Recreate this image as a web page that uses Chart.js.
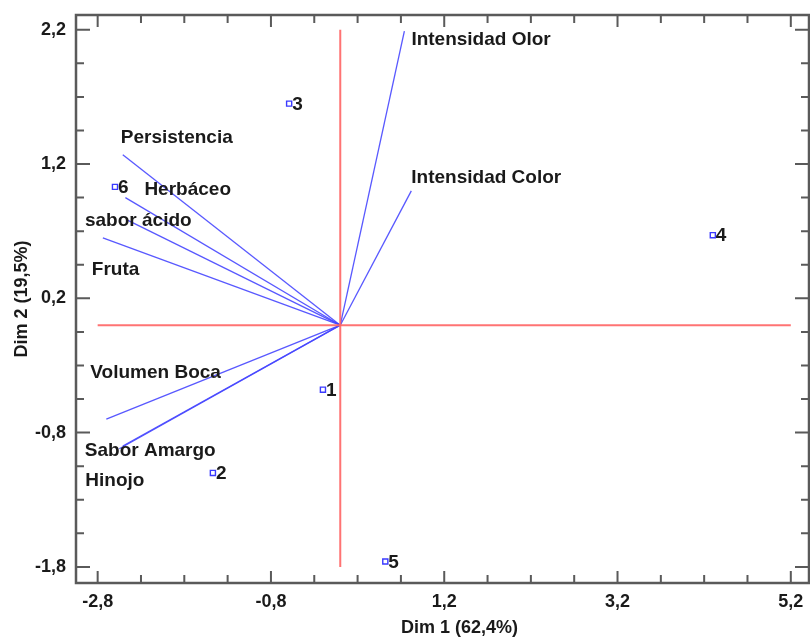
<!DOCTYPE html>
<html>
<head>
<meta charset="utf-8">
<script src="https://cdn.jsdelivr.net/npm/chart.js@4.4.1/dist/chart.umd.min.js"></script>
<style>
  html, body { margin: 0; padding: 0; background: #fff; overflow: hidden; }
  #wrap { width: 810px; height: 638px; }
</style>
</head>
<body>
<div id="wrap"><canvas id="biplot"></canvas></div>
<script>
// variable loadings (vector ends)
const varNames = ['Intensidad Olor', 'Intensidad Color', 'Persistencia', 'Herbáceo', 'sabor ácido',
                  'Fruta', 'Volumen Boca', 'Sabor Amargo', 'Hinojo'];
const varX = [0.74, 0.82, -2.51, -2.48, -2.45, -2.74, -2.70, -2.51, -2.55];
const varY = [2.19, 1.00, 1.27, 0.95, 0.78, 0.65, -0.70, -0.90, -0.92];

// observation scores
const obsNames = ['1', '2', '3', '4', '5', '6'];
const obsX = [-0.20, -1.47, -0.59, 4.30, 0.52, -2.60];
const obsY = [-0.48, -1.10, 1.65, 0.67, -1.76, 1.03];

// axis ticks
const xTicks = [-2.8, -0.8, 1.2, 3.2, 5.2];
const yTicks = [-1.8, -0.8, 0.2, 1.2, 2.2];
const xMinorStep = 0.5;
const yMinorStep = 0.25;
const xTitle = 'Dim 1 (62,4%)';

const FONT = '"Liberation Sans", Arial, sans-serif';
const fmt = v => v.toFixed(1).replace('.', ',');

// pixel nudges for the variable names relative to their vector end
const labelOffsets = [[7, 9], [0, -13], [-2, -17], [19, -8], [-43, 0], [-11, 32], [-16, -46], [-38, 5], [-34, 32]];

const datasets = [];

// reference axes through the origin
datasets.push({
    data: [{x: 0, y: yTicks[0]}, {x: 0, y: yTicks[yTicks.length - 1]}],
    borderColor: 'rgba(255, 100, 100, 0.9)', borderWidth: 2, pointRadius: 0, showLine: true
});
datasets.push({
    data: [{x: xTicks[0], y: 0}, {x: xTicks[xTicks.length - 1], y: 0}],
    borderColor: 'rgba(255, 100, 100, 0.9)', borderWidth: 2, pointRadius: 0, showLine: true
});

varNames.forEach((name, i) => {
    datasets.push({
        label: name,
        data: [{x: 0, y: 0}, {x: varX[i], y: varY[i]}],
        borderColor: 'rgba(70, 70, 255, 0.9)', borderWidth: 1.3, pointRadius: 0, showLine: true
    });
});

datasets.push({
    label: 'obs',
    data: obsX.map((x, i) => ({x: x, y: obsY[i]})),
    pointStyle: 'rect', pointRadius: 3.6,
    borderColor: '#3a3aff', backgroundColor: '#fff', pointBorderWidth: 1.4, showLine: false
});

// frame with inward tick marks, plus text labels
const framePlugin = {
    id: 'framePlugin',
    afterDatasetsDraw(chart) {
        const {ctx, chartArea: a, scales: {x, y}} = chart;
        ctx.save();
        ctx.strokeStyle = '#5a5a5a';
        ctx.lineWidth = 2.5;
        ctx.strokeRect(a.left, a.top, a.right - a.left, a.bottom - a.top);

        ctx.lineWidth = 2;
        ctx.beginPath();
        const nx = Math.round((xTicks[xTicks.length - 1] - xTicks[0]) / xMinorStep);
        for (let k = 0; k <= nx; k++) {
            const v = xTicks[0] + k * xMinorStep;
            const px = x.getPixelForValue(v);
            const len = (k % 4 === 0) ? 12 : 8;
            ctx.moveTo(px, a.bottom); ctx.lineTo(px, a.bottom - len);
            ctx.moveTo(px, a.top); ctx.lineTo(px, a.top + len);
        }
        const ny = Math.round((yTicks[yTicks.length - 1] - yTicks[0]) / yMinorStep);
        for (let k = 0; k <= ny; k++) {
            const v = yTicks[0] + k * yMinorStep;
            const py = y.getPixelForValue(v);
            const len = (k % 4 === 0) ? 14 : 8;
            ctx.moveTo(a.left, py); ctx.lineTo(a.left + len, py);
            ctx.moveTo(a.right, py); ctx.lineTo(a.right - len, py);
        }
        ctx.stroke();

        ctx.fillStyle = '#1a1a1a';
        ctx.font = 'bold 19px ' + FONT;
        ctx.textBaseline = 'middle';
        ctx.textAlign = 'left';
        varNames.forEach((name, i) => {
            const px = x.getPixelForValue(varX[i]) + labelOffsets[i][0];
            const py = y.getPixelForValue(varY[i]) + labelOffsets[i][1];
            ctx.fillText(name, px, py);
        });
        obsNames.forEach((name, i) => {
            ctx.fillText(name, x.getPixelForValue(obsX[i]) + 3, y.getPixelForValue(obsY[i]) + 1);
        });

        // x axis title sits a little right of centre in the original
        ctx.font = 'bold 18px ' + FONT;
        ctx.textAlign = 'center';
        ctx.fillText(xTitle, (a.left + a.right) / 2 + 17, x.bottom - 10);
        ctx.restore();
    }
};

new Chart(document.getElementById('biplot'), {
    type: 'scatter',
    data: {datasets: datasets},
    options: {
        responsive: true,
        maintainAspectRatio: false,
        animation: false,
        layout: {autoPadding: false, padding: {top: 15, right: 1, left: 0, bottom: 0}},
        plugins: {legend: {display: false}, tooltip: {enabled: false}},
        scales: {
            x: {
                type: 'linear', min: -3.05, max: 5.41,
                afterBuildTicks: scale => { scale.ticks = xTicks.map(v => ({value: v})); },
                afterFit: scale => { scale.height = 55; scale.paddingLeft = 0; scale.paddingRight = 0; },
                grid: {display: false, drawTicks: false},
                border: {display: false},
                ticks: {
                    padding: 8, color: '#1a1a1a', maxRotation: 0,
                    font: {family: FONT, size: 18, weight: 'bold'},
                    callback: v => fmt(v)
                },
                title: {display: false}
            },
            y: {
                type: 'linear', min: -1.92, max: 2.31,
                afterBuildTicks: scale => { scale.ticks = yTicks.map(v => ({value: v})); },
                afterFit: scale => { scale.width = 76; scale.paddingTop = 0; scale.paddingBottom = 0; },
                grid: {display: false, drawTicks: false},
                border: {display: false},
                ticks: {
                    padding: 10, color: '#1a1a1a',
                    font: {family: FONT, size: 18, weight: 'bold'},
                    callback: v => fmt(v)
                },
                title: {
                    display: true, text: 'Dim 2 (19,5%)', color: '#1a1a1a',
                    font: {family: FONT, size: 18, weight: 'bold'},
                    padding: {top: 11, bottom: 0}
                }
            }
        }
    },
    plugins: [framePlugin]
});
</script>
</body>
</html>
